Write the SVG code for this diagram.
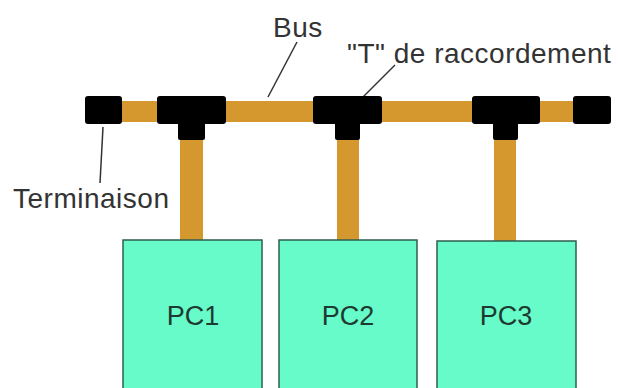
<svg xmlns="http://www.w3.org/2000/svg" width="618" height="388" viewBox="0 0 618 388">
<style>
.lbl{font-family:"Liberation Sans",Arial,sans-serif;font-size:28px;fill:#333;letter-spacing:0.5px}
.pc{font-family:"Liberation Sans",Arial,sans-serif;font-size:27px;fill:#1d3a30;text-anchor:middle}
.box{fill:#66fbc9;stroke:#2f5e50;stroke-width:1.5}
.cable{fill:#d4982e}
.blk{fill:#000}
.lead{stroke:#333;stroke-width:1.5;fill:none}
</style>
<rect width="618" height="388" fill="#fff"/>
<g id="connectors">
<rect class="cable" x="118" y="101" width="460" height="21"/>
<rect class="cable" x="180" y="135" width="23" height="106"/>
<rect class="cable" x="337" y="135" width="22" height="107"/>
<rect class="cable" x="494" y="135" width="22" height="107"/>
<line class="lead" x1="297" y1="42" x2="268" y2="97"/>
<line class="lead" x1="395" y1="65" x2="363" y2="97"/>
<line class="lead" x1="103" y1="127" x2="100" y2="183"/>
</g>
<g id="term-left"><rect class="blk" x="85" y="96" width="37" height="28" rx="3"/></g>
<g id="term-right"><rect class="blk" x="573" y="96" width="38" height="28" rx="3"/></g>
<g id="t1"><rect class="blk" x="157" y="96" width="69" height="28" rx="3"/><rect class="blk" x="178" y="118" width="27" height="22" rx="2"/></g>
<g id="t2"><rect class="blk" x="313" y="96" width="69" height="28" rx="3"/><rect class="blk" x="335" y="118" width="25" height="22" rx="2"/></g>
<g id="t3"><rect class="blk" x="472" y="96" width="68" height="28" rx="3"/><rect class="blk" x="493" y="118" width="25" height="22" rx="2"/></g>
<g id="pc1"><rect class="box" x="123" y="240" width="139" height="160"/><text class="pc" x="193" y="325">PC1</text></g>
<g id="pc2"><rect class="box" x="279" y="240" width="138" height="160"/><text class="pc" x="348" y="325">PC2</text></g>
<g id="pc3"><rect class="box" x="437" y="241" width="139" height="160"/><text class="pc" x="506" y="325">PC3</text></g>
<g id="labels">
<text class="lbl" x="273" y="37">Bus</text>
<text class="lbl" x="347" y="63">"T" de raccordement</text>
<text class="lbl" x="13" y="208">Terminaison</text>
</g>
</svg>
